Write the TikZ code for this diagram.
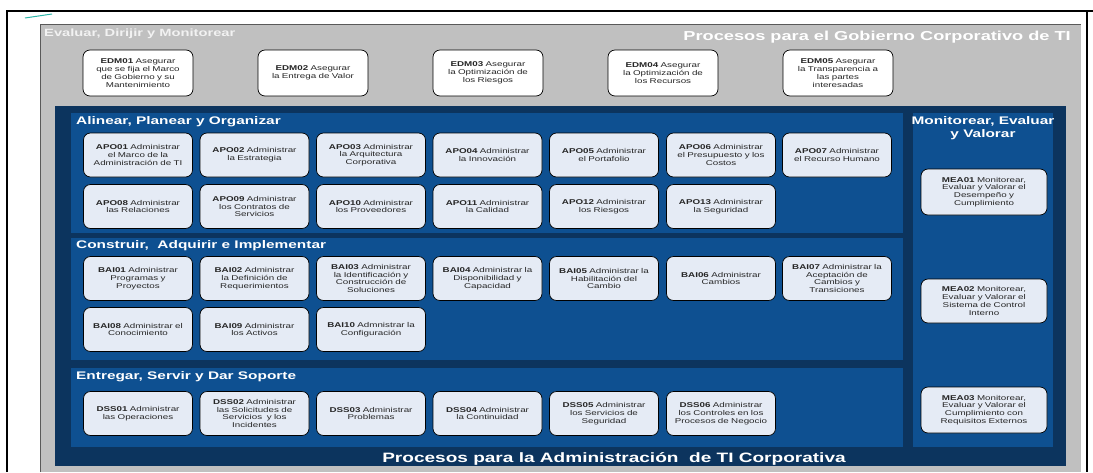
\documentclass[tikz,border=0pt]{standalone}
\usepackage{fontspec}
\setmainfont{Liberation Sans}[FakeStretch=1.4]
\definecolor{panelgray}{HTML}{C0C0C0}
\definecolor{navy}{HTML}{0C345E}
\definecolor{secblue}{HTML}{0E5091}
\definecolor{boxfill}{HTML}{E5EBF5}
\definecolor{teal}{HTML}{2BB5A8}
\definecolor{hdrwhite}{HTML}{F2F2F2}
\tikzset{
  pbox/.style={draw=black, line width=0.7pt, rounded corners=7pt, fill=boxfill,
    minimum width=109pt, minimum height=44pt, text width=105pt, inner sep=1pt,
    align=center, font=\fontsize{7}{7.8}\selectfont, text=black!85},
  edmbox/.style={pbox, fill=white, minimum width=110pt, minimum height=46pt},
  meabox/.style={pbox, minimum width=126pt, text width=120pt},
  sectitle/.style={anchor=west, inner sep=0pt, text=white, font=\fontsize{11}{12}\selectfont\bfseries},
  bigtitle/.style={inner sep=0pt, text=white, font=\fontsize{13}{14}\selectfont\bfseries}
}
\begin{document}
\begin{tikzpicture}[x=1pt,y=-1pt]
\useasboundingbox (0,0) rectangle (1093,472);
% outer frame
\draw[line width=1.2pt] (7,472) -- (7,11) -- (1093,11);
\draw[line width=1.2pt] (1087,11) -- (1087,472);
\draw[teal, line width=1pt] (25,18) -- (52,14);
% gray governance panel
\fill[panelgray] (40,24) rectangle (1081,472);
\draw[gray!70!black, line width=0.6pt] (40,472) -- (40,24) -- (1081,24);
\node[anchor=west, inner sep=0pt, text=hdrwhite, font=\fontsize{10.5}{12}\selectfont\bfseries] (tEDM) at (44,34) {Evaluar, Dirijir y Monitorear};
\node[bigtitle, anchor=east] (tGob) at (1071,37) {Procesos para el Gobierno Corporativo de TI};
% EDM boxes
\node[edmbox] (EDM01) at (138,73) {\textbf{EDM01} Asegurar\\que se fija el Marco\\de Gobierno y su\\Mantenimiento};
\node[edmbox] (EDM02) at (313,73) {\textbf{EDM02} Asegurar\\la Entrega de Valor};
\node[edmbox] (EDM03) at (488,73) {\textbf{EDM03} Asegurar\\la Optimización de\\los Riesgos};
\node[edmbox] (EDM04) at (663,73) {\textbf{EDM04} Asegurar\\la Optimización de\\los Recursos};
\node[edmbox] (EDM05) at (838,73) {\textbf{EDM05} Asegurar\\la Transparencia a\\las partes\\interesadas};
% navy management panel
\fill[navy] (55,106) rectangle (1066,466);
\fill[secblue] (71,113) rectangle (903,233);
\fill[secblue] (71,238) rectangle (903,360);
\fill[secblue] (71,368) rectangle (903,447);
\fill[secblue] (913,113) rectangle (1053,447);
\node[sectitle] (tAPO) at (76,122) {Alinear, Planear y Organizar};
\node[sectitle] (tBAI) at (76,246) {Construir,\ \ Adquirir e Implementar};
\node[sectitle] (tDSS) at (76,377) {Entregar, Servir y Dar Soporte};
\node[sectitle, anchor=center, align=center, font=\fontsize{11}{13}\selectfont\bfseries] (tMEA) at (983,128) {Monitorear, Evaluar\\y Valorar};
\node[bigtitle, font=\fontsize{13.6}{14}\selectfont\bfseries] (tAdm) at (614,459) {Procesos para la Administración\ \ de TI Corporativa};
% APO
\node[pbox] (APO01) at (138,155) {\textbf{APO01} Administrar\\el Marco de la\\Administración de TI};
\node[pbox] (APO02) at (254.5,155) {\textbf{APO02} Administrar\\la Estrategia};
\node[pbox] (APO03) at (371,155) {\textbf{APO03} Administrar\\la Arquitectura\\Corporativa};
\node[pbox] (APO04) at (487.5,155) {\textbf{APO04} Administrar\\la Innovación};
\node[pbox] (APO05) at (604,155) {\textbf{APO05} Administrar\\el Portafolio};
\node[pbox] (APO06) at (721,155) {\textbf{APO06} Administrar\\el Presupuesto y los\\Costos};
\node[pbox] (APO07) at (837,155) {\textbf{APO07} Administrar\\el Recurso Humano};
\node[pbox] (APO08) at (138,206.5) {\textbf{APO08} Administrar\\las Relaciones};
\node[pbox] (APO09) at (254.5,206.5) {\textbf{APO09} Administrar\\los Contratos de\\Servicios};
\node[pbox] (APO10) at (371,206.5) {\textbf{APO10} Administrar\\los Proveedores};
\node[pbox] (APO11) at (487.5,206.5) {\textbf{APO11} Administrar\\la Calidad};
\node[pbox] (APO12) at (604,206.5) {\textbf{APO12} Administrar\\los Riesgos};
\node[pbox] (APO13) at (721,206.5) {\textbf{APO13} Administrar\\la Seguridad};
% BAI
\node[pbox] (BAI01) at (138,278.5) {\textbf{BAI01} Administrar\\Programas y\\Proyectos};
\node[pbox] (BAI02) at (254.5,278.5) {\textbf{BAI02} Administrar\\la Definición de\\Requerimientos};
\node[pbox] (BAI03) at (371,278.5) {\textbf{BAI03} Administrar\\la Identificación y\\Construcción de\\Soluciones};
\node[pbox] (BAI04) at (487.5,278.5) {\textbf{BAI04} Administrar la\\Disponibilidad y\\Capacidad};
\node[pbox] (BAI05) at (604,278.5) {\textbf{BAI05} Administrar la\\Habilitación del\\Cambio};
\node[pbox] (BAI06) at (721,278.5) {\textbf{BAI06} Administrar\\Cambios};
\node[pbox] (BAI07) at (837,278.5) {\textbf{BAI07} Administrar la\\Aceptación de\\Cambios y\\Transiciones};
\node[pbox] (BAI08) at (138,329.5) {\textbf{BAI08} Administrar el\\Conocimiento};
\node[pbox] (BAI09) at (254.5,329.5) {\textbf{BAI09} Administrar\\los Activos};
\node[pbox] (BAI10) at (371,329.5) {\textbf{BAI10} Admnistrar la\\Configuración};
% DSS
\node[pbox] (DSS01) at (138,413.5) {\textbf{DSS01} Administrar\\las Operaciones};
\node[pbox] (DSS02) at (254.5,413.5) {\textbf{DSS02} Administrar\\las Solicitudes de\\Servicios\ \ y los\\Incidentes};
\node[pbox] (DSS03) at (371,413.5) {\textbf{DSS03} Administrar\\Problemas};
\node[pbox] (DSS04) at (487.5,413.5) {\textbf{DSS04} Administrar\\la Continuidad};
\node[pbox] (DSS05) at (604,413.5) {\textbf{DSS05} Administrar\\los Servicios de\\Seguridad};
\node[pbox] (DSS06) at (721,413.5) {\textbf{DSS06} Administrar\\los Controles en los\\Procesos de Negocio};
% MEA
\node[meabox, minimum height=46pt] (MEA01) at (984,192) {\textbf{MEA01} Monitorear,\\Evaluar y Valorar el\\Desempeño y\\Cumplimiento};
\node[meabox] (MEA02) at (984,301) {\textbf{MEA02} Monitorear,\\Evaluar y Valorar el\\Sistema de Control\\Interno};
\node[meabox, minimum height=46pt] (MEA03) at (984,410) {\textbf{MEA03} Monitorear,\\Evaluar y Valorar el\\Cumplimiento con\\Requisitos Externos};
\end{tikzpicture}
\end{document}
